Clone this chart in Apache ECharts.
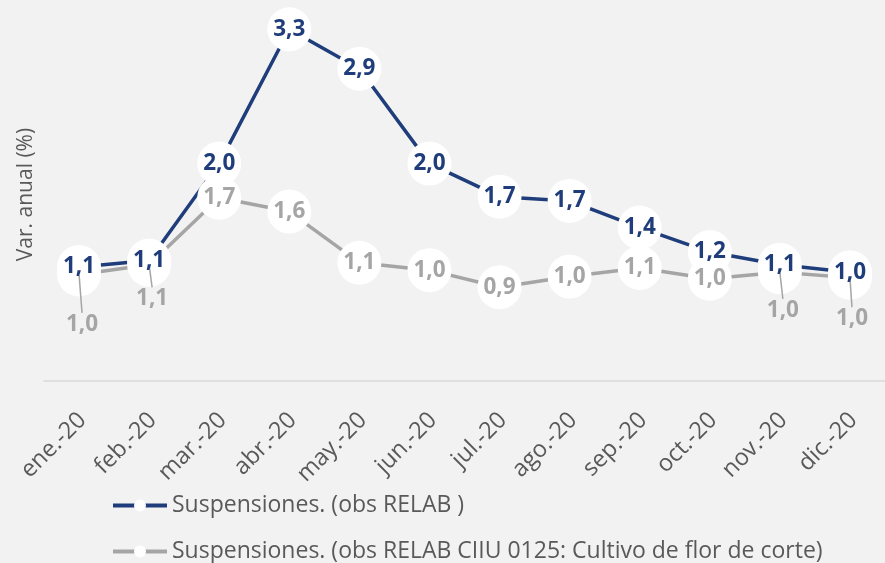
<!DOCTYPE html>
<html>
<head>
<meta charset="utf-8">
<style>
  html, body { margin: 0; padding: 0; background: #f2f2f2; }
  #chart { width: 885px; height: 563px; }
</style>
<script src="https://cdn.jsdelivr.net/npm/echarts@6/dist/echarts.min.js"></script>
</head>
<body>
<div id="chart"></div>
<script>
// meses
let months = ['ene.-20', 'feb.-20', 'mar.-20', 'abr.-20', 'may.-20', 'jun.-20',
	'jul.-20', 'ago.-20', 'sep.-20', 'oct.-20', 'nov.-20', 'dic.-20'];

// Suspensiones. (obs RELAB )
let relab = [1.07, 1.13, 2.04, 3.30, 2.93, 2.04, 1.73, 1.69, 1.44, 1.21, 1.09, 1.02];

// Suspensiones. (obs RELAB CIIU 0125: Cultivo de flor de corte)
let flores = [1.00, 1.09, 1.72, 1.59, 1.11, 1.04, 0.88, 0.98, 1.06, 0.96, 1.02, 0.97];

let nameRelab = 'Suspensiones. (obs RELAB )';
let nameFlores = 'Suspensiones. (obs RELAB CIIU 0125: Cultivo de flor de corte)';

// etiquetas grises que van debajo del punto
let movedFlores = { 0: [3, 50], 1: [3, 34], 10: [3, 38], 11: [2, 41] };

let blue = '#1f3d7a';
let gray = '#a5a5a5';
let textGray = '#595959';
let font = '"Open Sans", "Noto Sans", sans-serif';

function fmt(p) {
	return p.value.toFixed(1).replace('.', ',');
}

function lineSeries(name, data, color) {
	return {
		name: name,
		type: 'line',
		z: 2,
		data: data,
		symbol: 'circle',
		showSymbol: false,
		itemStyle: { color: '#fff', borderWidth: 0 },
		lineStyle: { color: color, width: 3.5 },
		silent: true
	}
}

function dotSeries(data) {
	return {
		type: 'scatter',
		z: 3,
		data: data,
		symbolSize: 44,
		itemStyle: { color: '#fff', opacity: 1 },
		silent: true
	}
}

function labelSeries(data, color, moved) {
	let items = data.map(function(v, i) {
		if (moved[i]) return { value: v, labelLine: { show: true } };
		return v;
	});
	return {
		type: 'scatter',
		z: 4,
		data: items,
		symbolSize: 1,
		itemStyle: { color: '#fff', opacity: 1 },
		label: {
			show: true,
			position: 'inside',
			color: color,
			fontFamily: font,
			fontWeight: 'bold',
			fontSize: 22.5,
			formatter: fmt
		},
		labelLine: {
			show: false,
			lineStyle: { color: gray, width: 1.5 }
		},
		labelLayout: function(params) {
			let m = moved[params.dataIndex];
			if (m) return { dx: m[0], dy: m[1] };
			return {};
		},
		silent: true
	}
}

function legendFor(name, top) {
	return {
		data: [name],
		left: 111,
		top: top,
		padding: 0,
		itemWidth: 54,
		itemHeight: 15,
		lineStyle: { width: 4 },
		textStyle: { color: textGray, fontSize: 23, fontFamily: font }
	}
}

let myChart = echarts.init(document.getElementById('chart'));

let option = {
	backgroundColor: '#f2f2f2',
	animation: false,
	grid: { left: 44, right: -15, top: 8, bottom: 182 },
	legend: [
		legendFor(nameRelab, 494),
		legendFor(nameFlores, 540)
	],
	xAxis: {
		type: 'category',
		data: months,
		axisLine: { lineStyle: { color: '#d9d9d9', width: 1.5 } },
		axisTick: { show: false },
		axisLabel: {
			rotate: 45,
			margin: 39,
			padding: [0, -5, 0, 0],
			color: textGray,
			fontSize: 23.5,
			fontFamily: font
		}
	},
	yAxis: {
		type: 'value',
		min: 0,
		max: 3.5,
		name: 'Var. anual (%)',
		nameLocation: 'middle',
		nameGap: 7,
		nameTextStyle: { color: textGray, fontSize: 21, fontFamily: font },
		axisLine: { show: false },
		axisTick: { show: false },
		axisLabel: { show: false },
		splitLine: { show: false }
	},
	series: [
		lineSeries(nameRelab, relab, blue),
		lineSeries(nameFlores, flores, gray),
		dotSeries(relab),
		dotSeries(flores),
		labelSeries(flores, gray, movedFlores),
		labelSeries(relab, blue, {})
	]
};

myChart.setOption(option);
</script>
</body>
</html>
